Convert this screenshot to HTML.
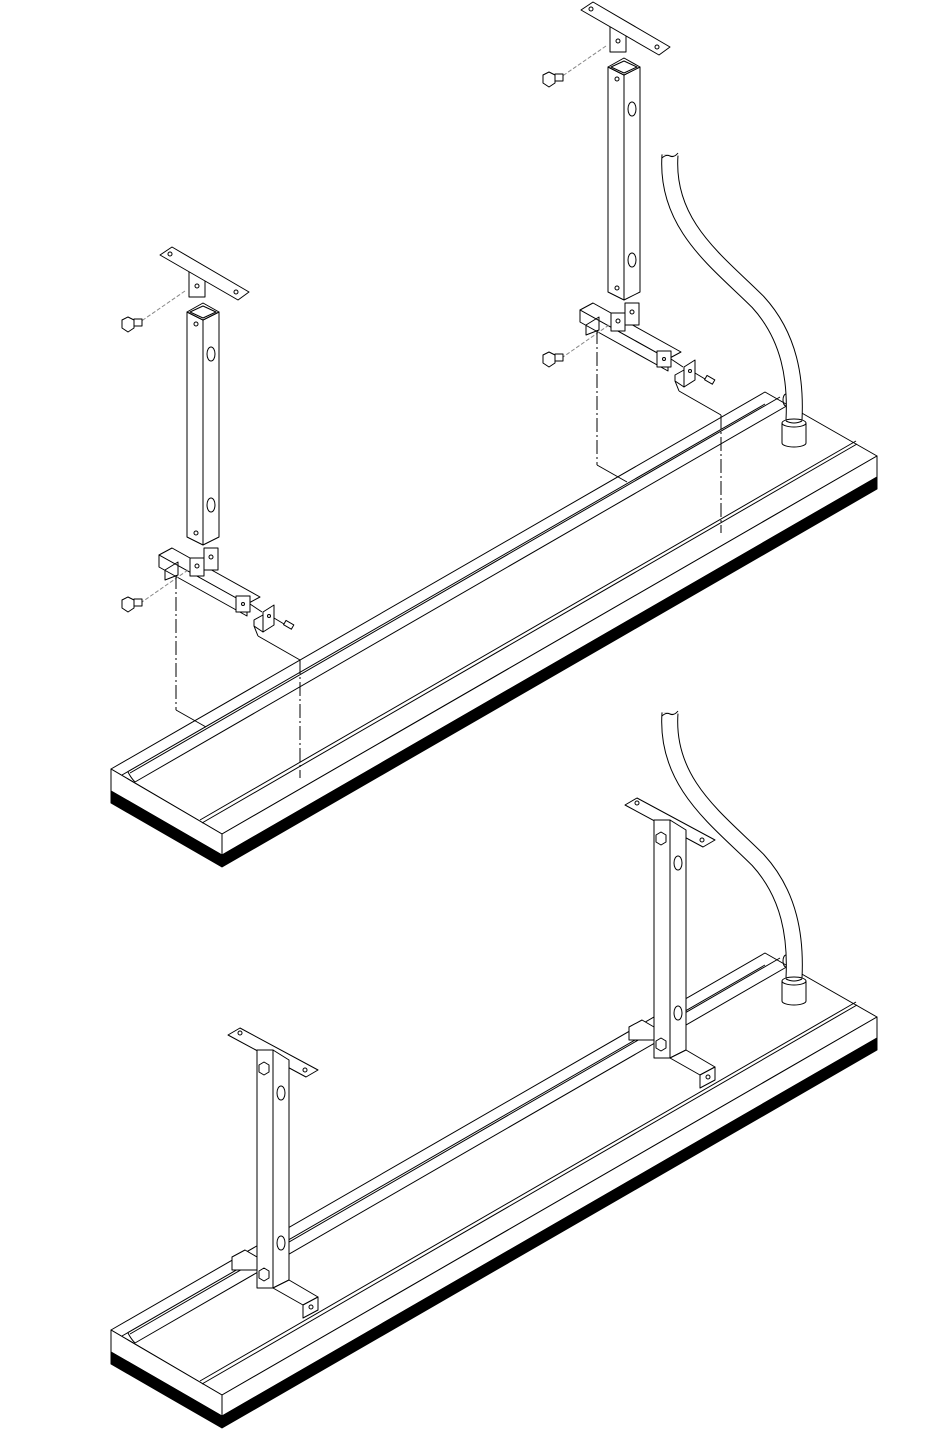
<!DOCTYPE html>
<html><head><meta charset="utf-8"><style>html,body{margin:0;padding:0;background:#fff}svg{display:block}</style></head>
<body>
<svg width="930" height="1454" viewBox="0 0 930 1454" xmlns="http://www.w3.org/2000/svg" fill="none" stroke="#000" stroke-width="1" stroke-linejoin="round">
<defs>
<g id="panel">
  <polygon points="111,769 222,834 877,456 765,392" fill="#fff"/>
  <polygon points="111,769 111,791 222,855 222,834" fill="#fff"/>
  <polygon points="222,834 222,855 877,477 877,456" fill="#fff"/>
  <polygon points="111,791 111,803 222,867 877,489 877,477 222,855" fill="#000"/>
  <line x1="130" y1="773" x2="780" y2="397"/>
  <line x1="135" y1="782" x2="790" y2="404"/>
  <line x1="122" y1="775" x2="765" y2="404"/>
  <path d="M128,772 q3,6 7,10"/>
  <ellipse cx="786" cy="400" rx="3" ry="6"/>
  <line x1="200" y1="820" x2="856" y2="441"/>
  <line x1="202" y1="823" x2="857" y2="444"/>
</g>
<g id="cable">
  <path d="M670,155 C665,225 718,262 758,302 C790,337 796,380 794,420" stroke="#000" stroke-width="17"/>
  <path d="M670,155 C665,225 718,262 758,302 C790,337 796,380 794,420" stroke="#fff" stroke-width="15"/>
  <path d="M662,158 q4,-4 8,-2 q4,2 8,-3"/>
  <path d="M782,423 v20 a12,4 0 0 0 24,0 v-20" fill="#fff"/>
  <ellipse cx="794" cy="423" rx="12" ry="4" fill="#fff"/>
  <path d="M786,421 q8,4 16,0" />
</g>
<g id="xleg">
  <rect x="189" y="272" width="16" height="25" fill="#fff"/>
  <circle cx="197" cy="286" r="2"/>
  <polygon points="160,255 172,247 249,292 238,300" fill="#fff"/>
  <circle cx="170" cy="254" r="2"/><circle cx="236" cy="292" r="2"/>
  <line x1="185" y1="291" x2="140" y2="322" stroke="#888" stroke-dasharray="4,2"/>
  <polygon points="122,320 128,317 134,320 134,328 128,332 122,328" fill="#fff"/>
  <rect x="134" y="319" width="8" height="7" fill="#fff"/>
  <polygon points="187,312 203,320 219,312 219,537 203,545 187,537" fill="#fff"/>
  <polygon points="187,312 203,303 219,312 203,320" fill="#fff"/>
  <polygon points="190,312 203,306 216,312 203,318"/>
  <line x1="203" y1="320" x2="203" y2="545"/>
  <circle cx="196" cy="324" r="2"/><circle cx="196" cy="533" r="2"/>
  <ellipse cx="211" cy="354" rx="4" ry="7"/><ellipse cx="211" cy="505" rx="4" ry="7"/>
  <polygon points="159,555 172,548 260,597 247,604" fill="#fff"/>
  <polygon points="159,555 247,604 247,616 159,567" fill="#fff"/>
  <polygon points="165,570 178,562 178,575 165,580" />
  <rect x="190" y="558" width="14" height="18" fill="#fff"/><circle cx="197" cy="566" r="2"/>
  <rect x="204" y="548" width="14" height="22" fill="#fff"/><circle cx="211" cy="557" r="2"/>
  <rect x="236" y="596" width="14" height="16" fill="#fff"/><circle cx="243" cy="604" r="1.5"/>
  <line x1="250" y1="604" x2="262" y2="612"/>
  <polygon points="263,612 274,605 274,625 263,632" fill="#fff"/><circle cx="269" cy="616" r="1.5"/>
  <polygon points="254,620 263,615 263,632 254,626" fill="#fff"/>
  <line x1="274" y1="618" x2="284" y2="624"/>
  <rect x="284" y="622" width="9" height="5" fill="#fff" transform="rotate(30 288 625)"/>
  <line x1="188" y1="570" x2="142" y2="602" stroke="#888" stroke-dasharray="4,2"/>
  <polygon points="122,600 128,597 134,600 134,608 128,612 122,608" fill="#fff"/>
  <rect x="134" y="599" width="8" height="7" fill="#fff"/>
  <g stroke-dasharray="14,3,2,3">
    <line x1="176" y1="575" x2="176" y2="710"/>
    <line x1="300" y1="660" x2="300" y2="778"/>
  </g>
  <line x1="176" y1="710" x2="206" y2="727"/>
  <line x1="258" y1="636" x2="300" y2="660"/>
  <line x1="254" y1="626" x2="258" y2="636"/>
</g>
<g id="aleg">
  <polygon points="228,1035 240,1028 318,1070 306,1077" fill="#fff"/>
  <circle cx="240" cy="1033" r="2"/><circle cx="305" cy="1070" r="2"/>
  <rect x="257" y="1050" width="16" height="238" fill="#fff"/>
  <polygon points="273,1050 289,1060 289,1280 273,1288" fill="#fff"/>
  <polygon points="264,1062 269,1065 269,1072 264,1075 259,1072 259,1065" fill="#fff"/>
  <ellipse cx="281" cy="1093" rx="4" ry="7"/><ellipse cx="281" cy="1243" rx="4" ry="7"/>
  <polygon points="232,1257 245,1250 257,1257 257,1270 232,1270" fill="#fff"/>
  <line x1="232" y1="1257" x2="232" y2="1270"/>
  <polygon points="273,1288 289,1280 318,1297 303,1305" fill="#fff"/>
  <polygon points="303,1305 318,1297 318,1310 303,1318" fill="#fff"/><circle cx="311" cy="1307" r="2"/>
  <polygon points="264,1268 269,1271 269,1278 264,1281 259,1278 259,1271" fill="#fff"/>
</g>
</defs>

<use href="#panel"/>
<use href="#panel" transform="translate(0,561)"/>

<use href="#cable"/>
<use href="#cable" transform="translate(0,558)"/>

<use href="#xleg"/>
<use href="#xleg" transform="translate(421,-245)"/>

<use href="#aleg"/>
<use href="#aleg" transform="translate(397,-230)"/>
</svg>
</body></html>
